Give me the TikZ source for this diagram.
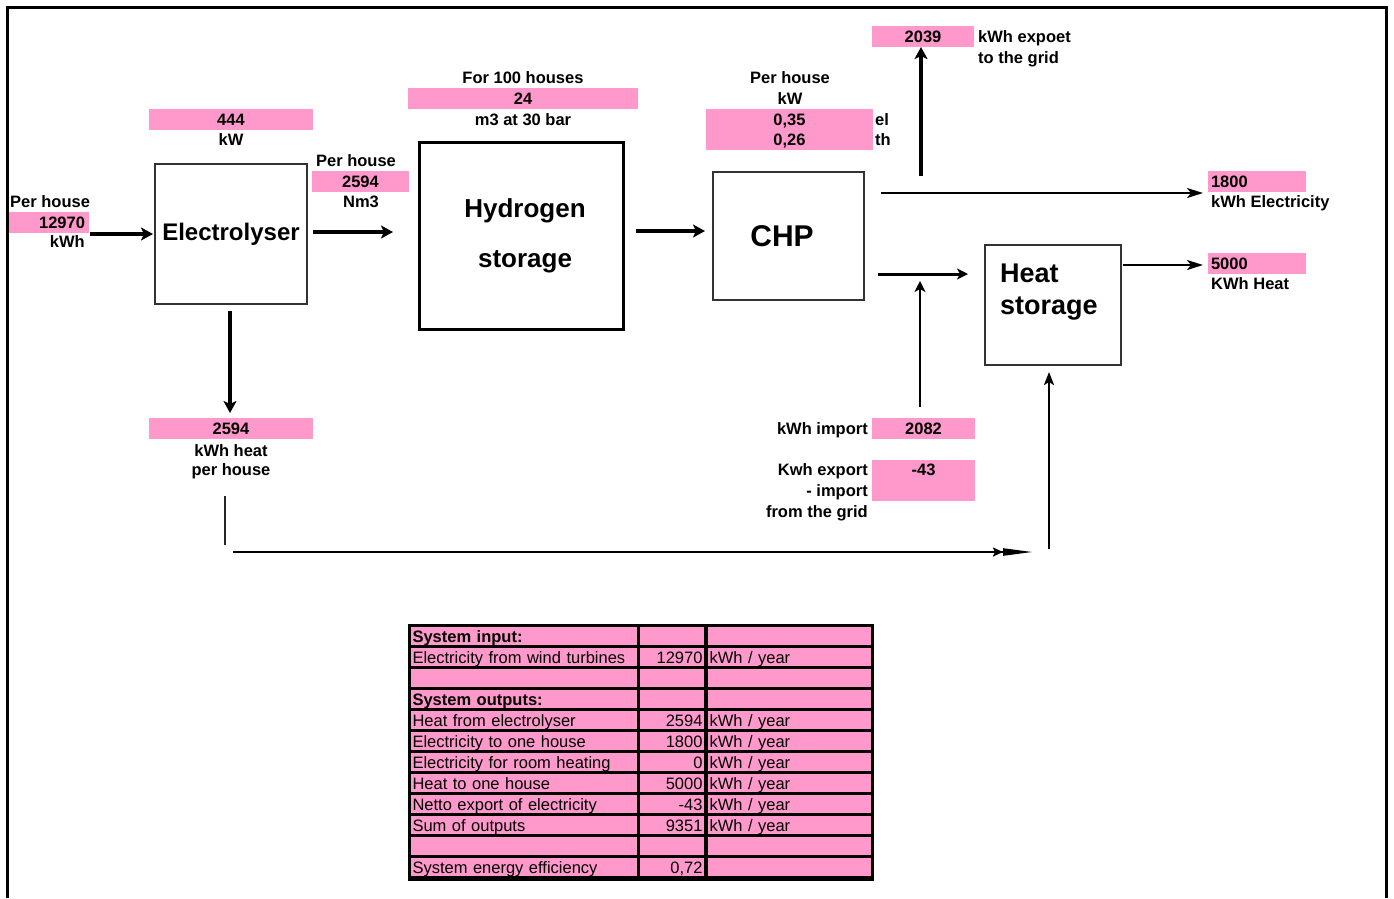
\documentclass[tikz,border=0pt]{standalone}
\usepackage{fontspec}
\setmainfont{Liberation Sans}
\usetikzlibrary{arrows.meta}
\definecolor{pk}{RGB}{255,153,204}
\newcommand\trow[4]{%
 \node[cA] (r#1a) at (524,{625+(#1+0.5)*21.08}) {#2};
 \node[cB] (r#1b) at (672,{625+(#1+0.5)*21.08}) {#3};
 \node[cC] (r#1c) at (789.5,{625+(#1+0.5)*21.08}) {#4};}
\begin{document}
\begin{tikzpicture}[x=1pt,y=-1pt,
  lbl/.style={font=\bfseries\fontsize{16.5}{20.5}\selectfont, inner sep=0pt},
  val/.style={fill=pk, inner xsep=0pt, inner ysep=0pt, font=\bfseries\fontsize{16.5}{20.5}\selectfont},
  thk/.style={line width=3.2pt, -{Stealth[length=12pt,width=13pt,inset=3pt]}},
  thn/.style={line width=2.2pt, -{Stealth[length=16pt,width=10pt,inset=4pt]}},
  cell/.style={fill=pk, minimum height=18.1pt, inner xsep=1.5pt, inner ysep=0pt, text height=13pt, text depth=0pt, font=\fontsize{16.5}{19}\selectfont},
  cA/.style={cell, text width=223pt, align=left},
  cB/.style={cell, text width=61pt, align=right},
  cC/.style={cell, text width=160pt, align=left},
  boxA/.style={draw=black!80, line width=2pt, inner sep=0pt}
]
\useasboundingbox (0,0) rectangle (1394,898);
\fill[white] (0,0) rectangle (1394,898);
% frame
\draw[line width=3pt] (7.5,898) -- (7.5,7) -- (1386.5,7) -- (1386.5,898);

% boxes
\node[boxA, minimum width=152pt, minimum height=140pt, font=\bfseries\fontsize{24}{28}\selectfont] (elec) at (231,234) {Electrolyser};
\node[draw, line width=3pt, minimum width=204pt, minimum height=187pt, inner sep=0pt, align=center, font=\bfseries\fontsize{26}{50}\selectfont] (hyd) at (521,235.5) {\hspace*{8pt}Hydrogen\\\hspace*{8pt}storage};
\node[boxA, minimum width=151pt, minimum height=128pt, font=\bfseries\fontsize{30}{36}\selectfont] (chp) at (788.5,236) {CHP\hspace*{13pt}};
\node[boxA, minimum width=136pt, minimum height=120pt] (hs) at (1053,305) {};
\node[anchor=north west, inner sep=0pt, align=left, font=\bfseries\fontsize{27}{31.6}\selectfont] (hst) at (1000,264) {Heat\\storage};

% pink value boxes
\node[val, minimum width=80pt, minimum height=21pt, inner xsep=4pt, text width=72pt, align=right] (v12970) at (49,222.5) {12970};
\node[val, minimum width=164pt, minimum height=21pt] (v444) at (231,119.5) {444};
\node[val, minimum width=97pt, minimum height=21pt] (v2594a) at (360.5,181.5) {2594};
\node[val, minimum width=230pt, minimum height=21pt] (v24) at (523,98.5) {24};
\node[val, minimum width=167pt, minimum height=41pt, align=center, font=\bfseries\fontsize{16.5}{20}\selectfont] (vchp) at (789.5,129.5) {\rule{0pt}{14pt}0,35\\0,26};
\node[val, minimum width=102pt, minimum height=21pt] (v2039) at (923,36.5) {2039};
\node[val, minimum width=98pt, minimum height=21pt, inner xsep=3pt, text width=92pt, align=left] (v1800) at (1257,181.5) {1800};
\node[val, minimum width=98pt, minimum height=21pt, inner xsep=3pt, text width=92pt, align=left] (v5000) at (1257,263.5) {5000};
\node[val, minimum width=164pt, minimum height=21pt] (v2594b) at (231,428.5) {2594};
\node[val, minimum width=103pt, minimum height=21pt] (v2082) at (923.5,428.5) {2082};
\node[val, minimum width=103pt, minimum height=40.7pt, align=center, font=\bfseries\fontsize{16.5}{21}\selectfont] (v43) at (923.5,480.3) {-43\\\phantom{0}};

% labels
\node[lbl, anchor=base west] (l1) at (10,207) {Per house};
\node[lbl, anchor=base east] (l2) at (85,247) {kWh};
\node[lbl, anchor=base] (l3) at (231,145) {kW};
\node[lbl, anchor=base] (l4) at (356,166) {Per house};
\node[lbl, anchor=base] (l5) at (361,207) {Nm3};
\node[lbl, anchor=base] (l6) at (523,83) {For 100 houses};
\node[lbl, anchor=base] (l7) at (523,125) {m3 at 30 bar};
\node[lbl, anchor=base] (l8) at (790,83) {Per house};
\node[lbl, anchor=base] (l9) at (790,104) {kW};
\node[lbl, anchor=base west] (l10) at (875,125) {el};
\node[lbl, anchor=base west] (l11) at (875,145) {th};
\node[lbl, anchor=base west] (l12) at (978,42) {kWh expoet};
\node[lbl, anchor=base west] (l13) at (978,63) {to the grid};
\node[lbl, anchor=base west] (l14) at (1211,207) {kWh Electricity};
\node[lbl, anchor=base west] (l15) at (1211,289) {KWh Heat};
\node[lbl, anchor=base] (l16) at (231,456) {kWh heat};
\node[lbl, anchor=base] (l17) at (231,475) {per house};
\node[lbl, anchor=base east] (l18) at (868,434) {kWh import};
\node[lbl, anchor=base east] (l19) at (868,475.7) {Kwh export};
\node[lbl, anchor=base east] (l20) at (868,496.7) {- import};
\node[lbl, anchor=base east] (l21) at (868,517) {from the grid};

% connector end points
\coordinate (a1s) at (90,234);   \coordinate (a1e) at (153,234);
\coordinate (a2s) at (313,232);  \coordinate (a2e) at (393,232);
\coordinate (a3s) at (636,231);  \coordinate (a3e) at (705,231);
\coordinate (a4s) at (230,311);  \coordinate (a4e) at (230,413);
\coordinate (a5s) at (921,176);  \coordinate (a5e) at (921,47);
\coordinate (a6s) at (881,193);  \coordinate (a6e) at (1203,193);
\coordinate (a7s) at (878,274);  \coordinate (a7e) at (968,274);
\coordinate (a8s) at (920,407);  \coordinate (a8e) at (920,281);
\coordinate (a9s) at (1123,265); \coordinate (a9e) at (1203,265);
\coordinate (a10s) at (1049,549); \coordinate (a10e) at (1049,372);
\coordinate (b1s) at (225,496);  \coordinate (b1e) at (225,545);
\coordinate (b2s) at (233,552);  \coordinate (b2e) at (1033,552);

\draw[thk] (a1s) -- (a1e);
\draw[thk] (a2s) -- (a2e);
\draw[thk] (a3s) -- (a3e);
\draw[thk] (a4s) -- (a4e);
\draw[thk] (a5s) -- (a5e);
\draw[thn] (a6s) -- (a6e);
\draw[line width=3pt, -{Stealth[length=11pt,width=11pt,inset=3pt]}] (a7s) -- (a7e);
\draw[line width=2.8pt, -{Stealth[length=11pt,width=11pt,inset=3pt]}] (a8s) -- (a8e);
\draw[thn] (a9s) -- (a9e);
\draw[line width=2.8pt, -{Stealth[length=13pt,width=10pt,inset=3pt]}] (a10s) -- (a10e);
\draw[line width=2pt, black!85] (b1s) -- (b1e);
\draw[line width=2.2pt, -{Stealth[length=10pt,width=9pt,inset=2pt] Stealth[length=30pt,width=7pt,inset=0pt]}] (b2s) -- (b2e);

% table
\fill[black] (407.5,623.5) rectangle (874,880.5);
\trow{0}{\textbf{System input:}}{}{}
\trow{1}{Electricity from wind turbines}{12970}{kWh / year}
\trow{2}{}{}{}
\trow{3}{\textbf{System outputs:}}{}{}
\trow{4}{Heat from electrolyser}{2594}{kWh / year}
\trow{5}{Electricity to one house}{1800}{kWh / year}
\trow{6}{Electricity for room heating}{0}{kWh / year}
\trow{7}{Heat to one house}{5000}{kWh / year}
\trow{8}{Netto export of electricity}{-43}{kWh / year}
\trow{9}{Sum of outputs}{9351}{kWh / year}
\trow{10}{}{}{}
\trow{11}{System energy efficiency}{0,72}{}
\end{tikzpicture}
\end{document}
